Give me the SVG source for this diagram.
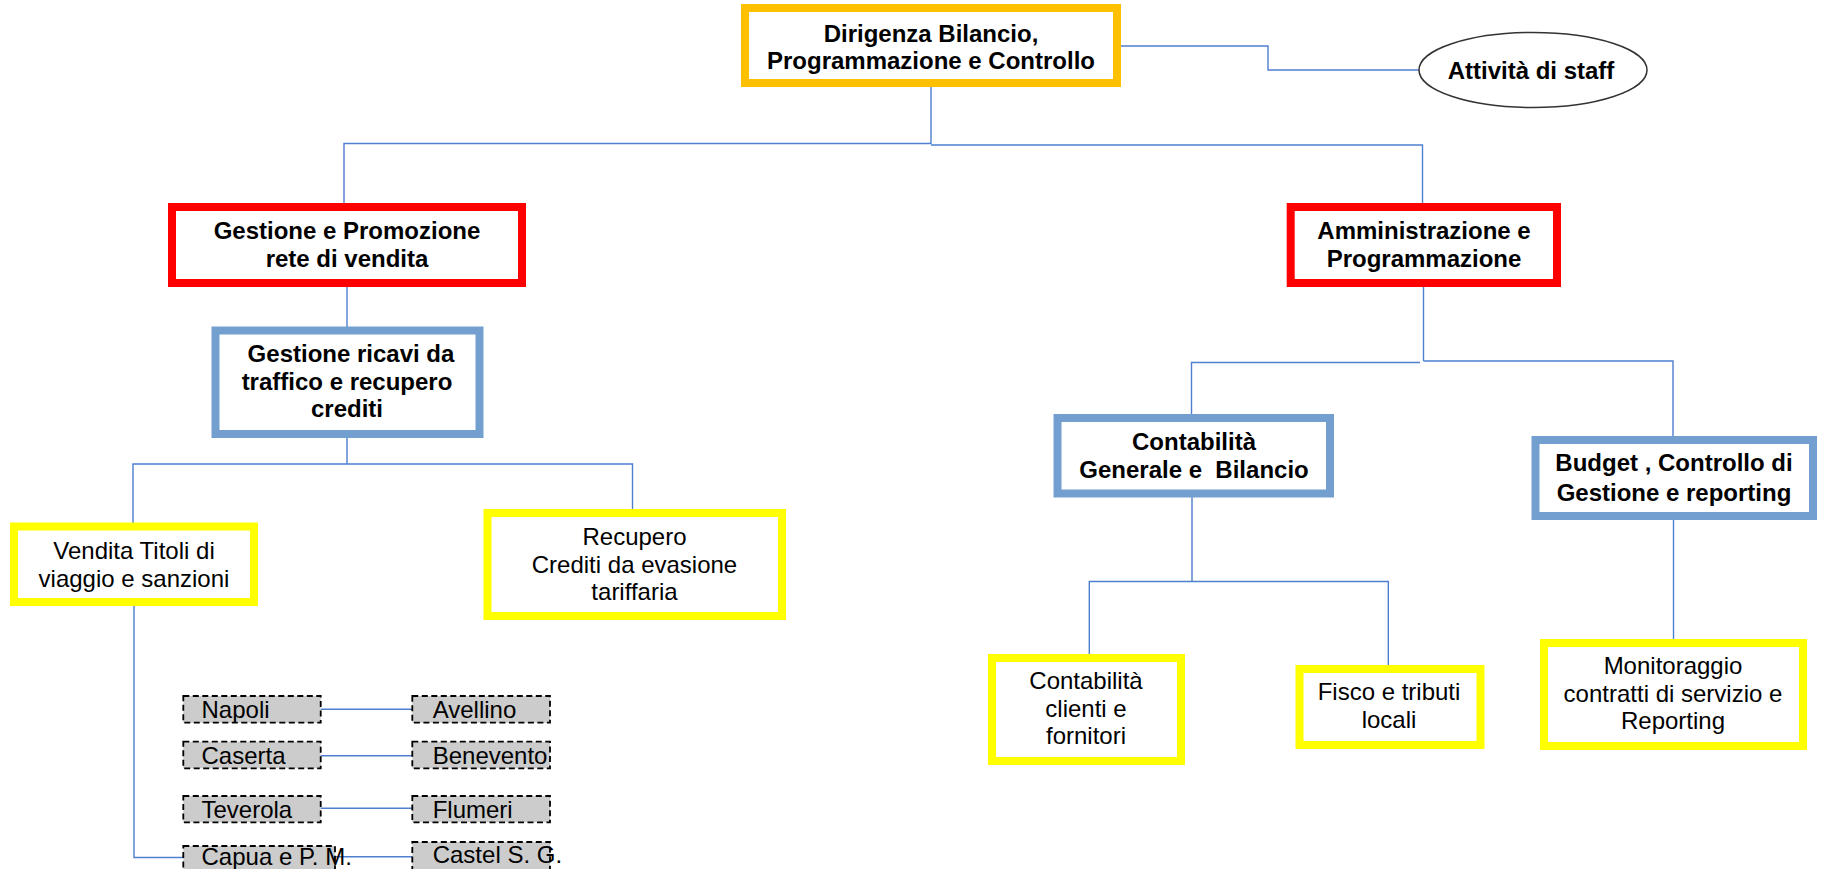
<svg xmlns="http://www.w3.org/2000/svg" width="1824" height="869" viewBox="0 0 1824 869">
<style>
.bg{fill:#ffffff}
.box{fill:#ffffff}
.orange{stroke:#ffc000;stroke-width:8}
.red{stroke:#ff0000;stroke-width:8}
.blue{stroke:#729fcf;stroke-width:8}
.yellow{stroke:#ffff00;stroke-width:8}
.gray{fill:#cccccc;stroke:#000000;stroke-width:1.8;stroke-dasharray:6 3.5}
.conn{fill:none;stroke:#4f7fcf;stroke-width:1.4}
.b{font-family:"Liberation Sans",Arial,sans-serif;font-weight:bold;font-size:24px;fill:#000000;text-anchor:middle}
.r{font-family:"Liberation Sans",Arial,sans-serif;font-size:24px;fill:#000000;text-anchor:middle}
.s{font-family:"Liberation Sans",Arial,sans-serif;font-size:24px;fill:#000000}
</style>
<rect class="bg" x="0" y="0" width="1824" height="869"/>
<g id="connectors">
  <path class="conn" d="M1121,46 H1268 V70 H1419"/>
  <path class="conn" d="M931,83 V144 M931,143.5 H344 V207 M931,145 H1422.5 V207"/>
  <path class="conn" d="M347,287 V330"/>
  <path class="conn" d="M347,437 V464 M347,464 H133 V526 M347,464 H632.5 V513"/>
  <path class="conn" d="M134,605 V857.5 H183.3"/>
  <path class="conn" d="M320.7,709.3 H412.3 M320.7,755.7 H412.3 M320.7,808.3 H412.3 M335,856.7 H412.3"/>
  <path class="conn" d="M1423.5,283 V361 M1423.5,361 H1673 V440 M1420,362.5 H1191.5 V418"/>
  <path class="conn" d="M1192,497 V581.5 M1192,581.5 H1089.3 V658 M1192,581.5 H1388.3 V669"/>
  <path class="conn" d="M1673.5,516 V643"/>
</g>
<g id="dirigenza">
  <rect class="box orange" x="745" y="8" width="372" height="75"/>
  <text class="b" x="931" y="41.5">Dirigenza Bilancio,</text>
  <text class="b" x="931" y="69">Programmazione e Controllo</text>
</g>
<g id="staff">
  <ellipse cx="1533" cy="70" rx="114" ry="37.5" fill="#ffffff" stroke="#333333" stroke-width="1.5"/>
  <text class="b" x="1531" y="78.7">Attività di staff</text>
</g>
<g id="gestione-promozione">
  <rect class="box red" x="172" y="207" width="350" height="76"/>
  <text class="b" x="347" y="239">Gestione e Promozione</text>
  <text class="b" x="347" y="267">rete di vendita</text>
</g>
<g id="amministrazione">
  <rect class="box red" x="1290.7" y="207" width="266.3" height="76"/>
  <text class="b" x="1424" y="239">Amministrazione e</text>
  <text class="b" x="1424" y="266.7">Programmazione</text>
</g>
<g id="gestione-ricavi">
  <rect class="box blue" x="215.5" y="330.5" width="264" height="103.5"/>
  <text class="b" x="351" y="361.7">Gestione ricavi da</text>
  <text class="b" x="347" y="390">traffico e recupero</text>
  <text class="b" x="347" y="417.3">crediti</text>
</g>
<g id="contabilita-generale">
  <rect class="box blue" x="1057.5" y="418" width="272.5" height="75.5"/>
  <text class="b" x="1194" y="450">Contabilità</text>
  <text class="b" x="1194" y="478.3" xml:space="preserve">Generale e  Bilancio</text>
</g>
<g id="budget">
  <rect class="box blue" x="1535.5" y="440" width="277.5" height="76"/>
  <text class="b" x="1674" y="471">Budget , Controllo di</text>
  <text class="b" x="1674" y="501">Gestione e reporting</text>
</g>
<g id="vendita">
  <rect class="box yellow" x="14" y="526.5" width="240" height="75.5"/>
  <text class="r" x="134" y="559">Vendita Titoli di</text>
  <text class="r" x="134" y="586.7">viaggio e sanzioni</text>
</g>
<g id="recupero">
  <rect class="box yellow" x="487.5" y="513" width="294.5" height="103"/>
  <text class="r" x="634.5" y="545">Recupero</text>
  <text class="r" x="634.5" y="572.7">Crediti da evasione</text>
  <text class="r" x="634.5" y="600">tariffaria</text>
</g>
<g id="contabilita-clienti">
  <rect class="box yellow" x="992" y="658" width="189" height="103"/>
  <text class="r" x="1086" y="689.3">Contabilità</text>
  <text class="r" x="1086" y="716.7">clienti e</text>
  <text class="r" x="1086" y="744.3">fornitori</text>
</g>
<g id="fisco">
  <rect class="box yellow" x="1299.5" y="669" width="181" height="76"/>
  <text class="r" x="1389" y="700">Fisco e tributi</text>
  <text class="r" x="1389" y="727.7">locali</text>
</g>
<g id="monitoraggio">
  <rect class="box yellow" x="1544" y="643" width="259" height="103"/>
  <text class="r" x="1673" y="674.3">Monitoraggio</text>
  <text class="r" x="1673" y="701.7">contratti di servizio e</text>
  <text class="r" x="1673" y="729.3">Reporting</text>
</g>
<g id="napoli">
  <rect class="gray" x="183.3" y="696" width="137.4" height="26.7"/>
  <text class="s" x="201.5" y="717.7">Napoli</text>
</g>
<g id="avellino">
  <rect class="gray" x="412.3" y="696" width="137.7" height="26.7"/>
  <text class="s" x="432.7" y="717.7">Avellino</text>
</g>
<g id="caserta">
  <rect class="gray" x="183.3" y="741.7" width="137.4" height="26.6"/>
  <text class="s" x="201.5" y="764">Caserta</text>
</g>
<g id="benevento">
  <rect class="gray" x="412.3" y="741.7" width="137.7" height="26.6"/>
  <text class="s" x="432.7" y="764">Benevento</text>
</g>
<g id="teverola">
  <rect class="gray" x="183.3" y="796" width="137.4" height="26.3"/>
  <text class="s" x="201.5" y="817.7">Teverola</text>
</g>
<g id="flumeri">
  <rect class="gray" x="412.3" y="796" width="137.7" height="26.3"/>
  <text class="s" x="432.7" y="817.7">Flumeri</text>
</g>
<g id="capua">
  <rect class="gray" x="183.3" y="846" width="151.7" height="30"/>
  <text class="s" x="201.5" y="865">Capua e P. M.</text>
</g>
<g id="castel">
  <rect class="gray" x="412.3" y="842" width="137.7" height="34"/>
  <text class="s" x="432.7" y="863.3">Castel S. G.</text>
</g>
</svg>
